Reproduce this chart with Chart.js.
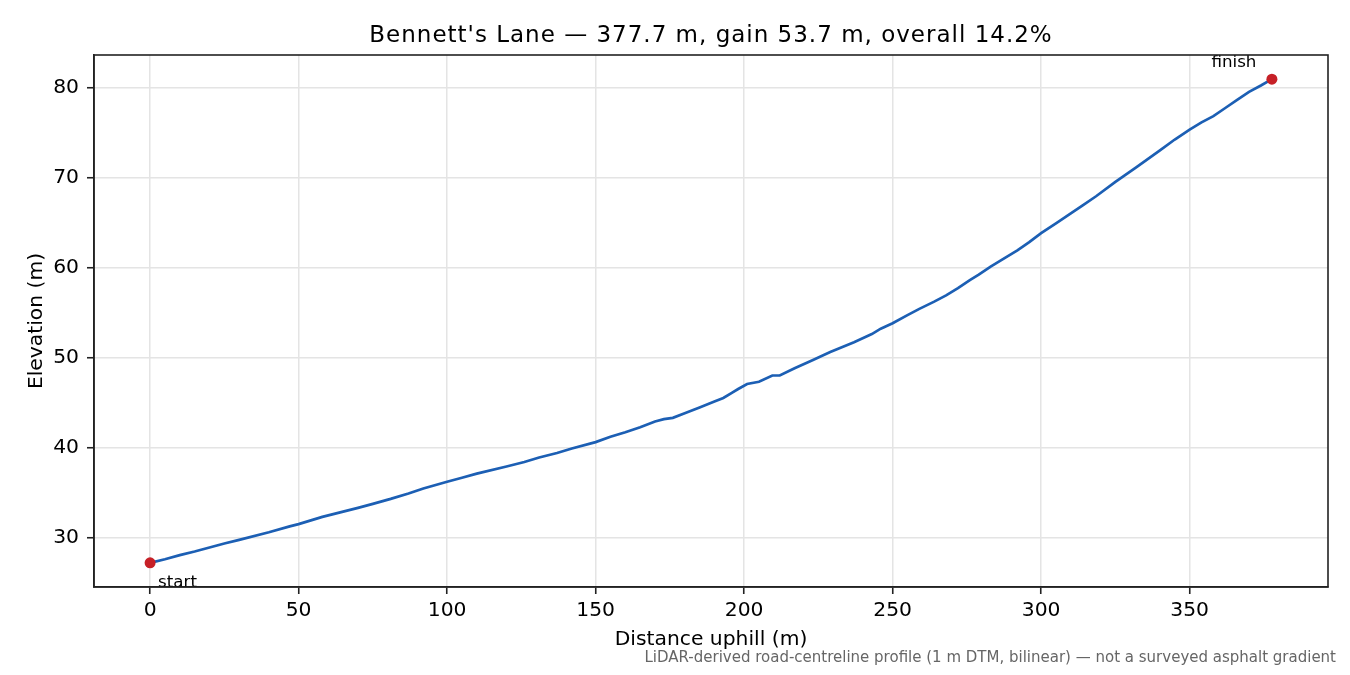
<!DOCTYPE html>
<html>
<head>
<meta charset="utf-8">
<script src="https://cdn.jsdelivr.net/npm/chart.js@4.4.1/dist/chart.umd.min.js"></script>
<style>
  html, body { margin: 0; padding: 0; background: #fff; }
  canvas { display: block; }
</style>
</head>
<body>
<canvas id="profileChart" width="1350" height="675"></canvas>
<script>
// elevation profile (m along road, m elevation)
const distance = [0, 5, 10, 15, 20, 25, 30, 40, 47, 50, 58, 64, 70, 75, 81, 87, 92, 100,
  105, 110, 120, 126, 131, 137, 142, 150, 155, 160, 165, 170, 173, 176, 180, 185, 190,
  193, 196, 198, 201, 205, 209.5, 212, 217, 223, 229, 237, 243, 246, 250, 255, 259,
  264, 268, 272, 276, 279, 283, 287, 292, 296, 300, 305, 310, 314, 318.5, 325, 332,
  340, 345, 350, 354, 358, 362, 366, 370, 374, 377.7];
const elevation = [27.2, 27.6, 28.05, 28.45, 28.9, 29.35, 29.75, 30.6, 31.25, 31.5, 32.3, 32.8, 33.3, 33.75, 34.3, 34.9, 35.45, 36.2,
  36.65, 37.1, 37.9, 38.4, 38.9, 39.4, 39.9, 40.6, 41.2, 41.7, 42.25, 42.9, 43.15, 43.3, 43.8, 44.45, 45.1,
  45.5, 46.1, 46.5, 47.05, 47.3, 48.0, 48.0, 48.8, 49.7, 50.6, 51.7, 52.6, 53.2, 53.8, 54.7, 55.4,
  56.2, 56.9, 57.7, 58.6, 59.2, 60.1, 60.9, 61.9, 62.8, 63.8, 64.9, 66.0, 66.9, 67.9, 69.5, 71.1,
  73.0, 74.2, 75.3, 76.1, 76.8, 77.7, 78.6, 79.5, 80.2, 80.9];
const xTicks = [0, 50, 100, 150, 200, 250, 300, 350];
const yTicks = [30, 40, 50, 60, 70, 80];
const endLabels = ['start', 'finish'];
const titleText = "Bennett's Lane \u2014 377.7 m, gain 53.7 m, overall 14.2%";
const footnote = 'LiDAR-derived road-centreline profile (1 m DTM, bilinear) \u2014 not a surveyed asphalt gradient';

const FONT = "'DejaVu Sans', 'Liberation Sans', sans-serif";
Chart.defaults.font.family = FONT;
Chart.defaults.color = '#000';

// matplotlib-like 5% margins
const xSpan = distance[distance.length - 1] - distance[0];
const ySpan = Math.max(...elevation) - Math.min(...elevation);

const profile = distance.map((d, i) => ({ x: d, y: elevation[i] }));
const last = distance.length - 1;
const ends = [
  { x: distance[0], y: elevation[0] },
  { x: distance[last], y: elevation[last] },
];

const extras = {
  id: 'extras',
  afterDatasetsDraw(chart) {
    const { ctx, scales: { x, y } } = chart;
    ctx.save();
    ctx.fillStyle = '#000';
    ctx.font = '16.7px ' + FONT;
    ctx.textBaseline = 'alphabetic';
    // start label sits below-right of the first point
    ctx.textAlign = 'left';
    ctx.fillText(endLabels[0], x.getPixelForValue(ends[0].x) + 8, y.getPixelForValue(ends[0].y) + 24);
    // finish label above-left of the last point
    ctx.textAlign = 'right';
    ctx.fillText(endLabels[1], x.getPixelForValue(ends[1].x) - 15.5, y.getPixelForValue(ends[1].y) - 12.5);
    ctx.restore();
  },
  afterDraw(chart) {
    const { ctx, chartArea: a } = chart;
    ctx.save();
    // frame (all four spines)
    ctx.strokeStyle = '#222';
    ctx.lineWidth = 1.6;
    ctx.strokeRect(a.left, a.top, a.right - a.left, a.bottom - a.top);
    // title
    ctx.fillStyle = '#000';
    ctx.font = '23px ' + FONT;
    ctx.letterSpacing = '1px';
    ctx.textAlign = 'center';
    ctx.textBaseline = 'alphabetic';
    ctx.fillText(titleText, (a.left + a.right) / 2, 41.7);
    // footnote
    ctx.letterSpacing = '0px';
    ctx.fillStyle = '#666';
    ctx.font = '15px ' + FONT;
    ctx.textAlign = 'right';
    ctx.fillText(footnote, 1336, 662);
    ctx.restore();
  }
};

const ctx = document.getElementById('profileChart').getContext('2d');
new Chart(ctx, {
  type: 'scatter',
  data: {
    datasets: [
      {
        label: 'ends',
        data: ends,
        showLine: false,
        pointRadius: 5.5,
        pointBackgroundColor: '#c62027',
        pointBorderWidth: 0,
        order: 0,
      },
      {
        label: 'profile',
        data: profile,
        showLine: true,
        borderColor: '#1c5fb4',
        borderWidth: 2.7,
        pointRadius: 0,
        tension: 0,
        order: 1,
      },
    ],
  },
  options: {
    responsive: false,
    animation: false,
    devicePixelRatio: 1,
    layout: { padding: { left: 0, right: 22, top: 55, bottom: 0 } },
    plugins: { legend: { display: false }, tooltip: { enabled: false } },
    scales: {
      x: {
        type: 'linear',
        min: distance[0] - xSpan * 0.05,
        max: distance[last] + xSpan * 0.05,
        afterBuildTicks: s => { s.ticks = xTicks.map(v => ({ value: v })); },
        afterFit: s => { s.height = 88; },
        grid: { color: '#e4e4e4', lineWidth: 1.5, tickColor: '#222', tickWidth: 1.6, tickLength: 7 },
        border: { display: true, color: '#222', width: 1.6 },
        ticks: { font: { size: 20.3 }, color: '#000', padding: 5, maxRotation: 0 },
        title: { display: true, text: 'Distance uphill (m)', font: { size: 20.3 }, color: '#000',
                 padding: { top: 0, bottom: 23.5 } },
      },
      y: {
        type: 'linear',
        min: Math.min(...elevation) - ySpan * 0.05,
        max: Math.max(...elevation) + ySpan * 0.05,
        afterBuildTicks: s => { s.ticks = yTicks.map(v => ({ value: v })); },
        afterFit: s => { s.width = 94; },
        grid: { color: '#e4e4e4', lineWidth: 1.5, tickColor: '#222', tickWidth: 1.6, tickLength: 7 },
        border: { display: true, color: '#222', width: 1.6 },
        ticks: { font: { size: 20.3 }, color: '#000', padding: 8 },
        title: { display: true, text: 'Elevation (m)', font: { size: 20.3 }, color: '#000',
                 padding: { top: 24.5, bottom: 0 } },
      },
    },
  },
  plugins: [extras],
});
</script>
</body>
</html>
